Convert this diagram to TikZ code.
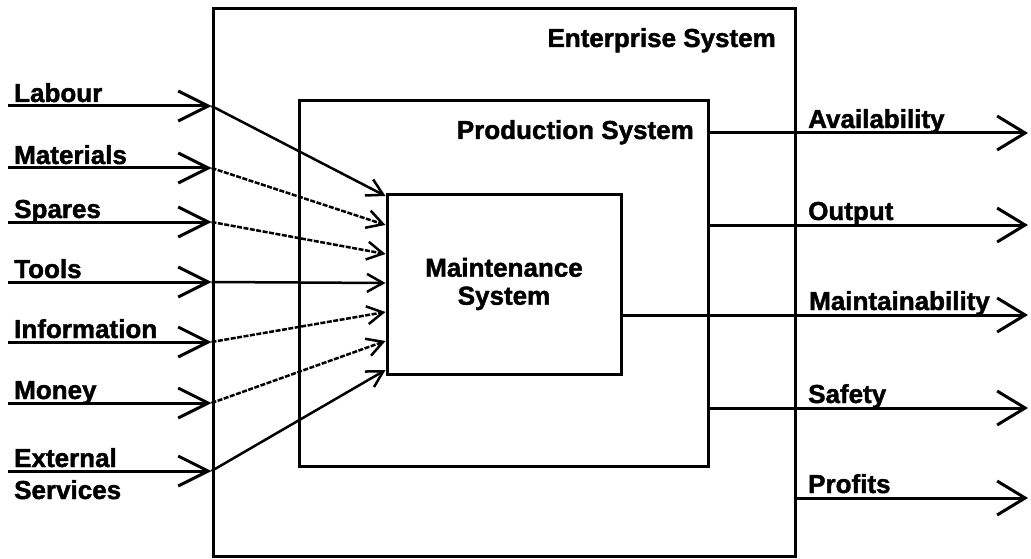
\documentclass[tikz,border=0pt]{standalone}
\usepackage{fontspec}
\setmainfont{Liberation Sans}[BoldFeatures={FakeBold=1.6}]
\usepackage{tikz}
\usetikzlibrary{positioning,arrows.meta}

\begin{document}
\begin{tikzpicture}[x=1pt,y=-1pt,
    sysbox/.style={draw, line width=3pt, inner sep=0pt},
    lbl/.style={font=\fontsize{26}{28}\selectfont\bfseries, inner sep=0pt},
    inflow/.style={line width=3pt, -{Straight Barb[length=30pt,width=30pt,line width=3pt]}},
    feed/.style={line width=2.5pt, -{Straight Barb[length=16pt,width=18pt,line width=2.5pt]}},
    feeddash/.style={feed, dash pattern=on 5pt off 1.5pt},
    outflow/.style={line width=3pt, -{Straight Barb[length=28pt,width=34pt,line width=3pt]}}]
    \useasboundingbox (0,0) rectangle (1031,559);

    % System boxes
    \node[sysbox, minimum width=582pt, minimum height=547pt] (enterprise) at (504,282.5) {};
    \node[sysbox, minimum width=409pt, minimum height=365pt] (production) at (503.5,283.5) {};
    \node[sysbox, lbl, align=center, minimum width=234pt, minimum height=180pt] (maintenance) at (504,284) {Maintenance\\System};
    \node[lbl, anchor=base east] (enterprise-title) at (776,47) {Enterprise System};
    \node[lbl, anchor=base east] (production-title) at (694,139) {Production System};

    % Labour
    \node[lbl, anchor=base west] (labour) at (14,102) {Labour};
    \coordinate (labour-src) at (8,106);
    \coordinate (labour-in) at (enterprise.west |- 0,106);
    \coordinate (labour-dst) at (maintenance.west |- 0,196);
    \draw[inflow] (labour-src) -- (labour-in);
    \draw[feed] (labour-in) -- (labour-dst);

    % Materials
    \node[lbl, anchor=base west] (materials) at (14,164) {Materials};
    \coordinate (materials-src) at (8,168);
    \coordinate (materials-in) at (enterprise.west |- 0,168);
    \coordinate (materials-dst) at (maintenance.west |- 0,225);
    \draw[inflow] (materials-src) -- (materials-in);
    \draw[feeddash] (materials-in) -- (materials-dst);

    % Spares
    \node[lbl, anchor=base west] (spares) at (14,218) {Spares};
    \coordinate (spares-src) at (8,222);
    \coordinate (spares-in) at (enterprise.west |- 0,222);
    \coordinate (spares-dst) at (maintenance.west |- 0,254);
    \draw[inflow] (spares-src) -- (spares-in);
    \draw[feeddash] (spares-in) -- (spares-dst);

    % Tools
    \node[lbl, anchor=base west] (tools) at (14,278) {Tools};
    \coordinate (tools-src) at (8,282);
    \coordinate (tools-in) at (enterprise.west |- 0,282);
    \coordinate (tools-dst) at (maintenance.west |- 0,283);
    \draw[inflow] (tools-src) -- (tools-in);
    \draw[feed] (tools-in) -- (tools-dst);

    % Information
    \node[lbl, anchor=base west] (information) at (14,338) {Information};
    \coordinate (information-src) at (8,342);
    \coordinate (information-in) at (enterprise.west |- 0,342);
    \coordinate (information-dst) at (maintenance.west |- 0,312);
    \draw[inflow] (information-src) -- (information-in);
    \draw[feeddash] (information-in) -- (information-dst);

    % Money
    \node[lbl, anchor=base west] (money) at (14,399) {Money};
    \coordinate (money-src) at (8,403);
    \coordinate (money-in) at (enterprise.west |- 0,403);
    \coordinate (money-dst) at (maintenance.west |- 0,341);
    \draw[inflow] (money-src) -- (money-in);
    \draw[feeddash] (money-in) -- (money-dst);

    % External services
    \node[lbl, anchor=base west] (external) at (14,467) {External};
    \node[lbl, anchor=base west] (services) at (14,499) {Services};
    \coordinate (external-src) at (8,471);
    \coordinate (external-in) at (enterprise.west |- 0,471);
    \coordinate (external-dst) at (maintenance.west |- 0,370);
    \draw[inflow] (external-src) -- (external-in);
    \draw[feed] (external-in) -- (external-dst);

    % Outputs
    \coordinate (availability-out) at (production.east |- 0,133);
    \coordinate (availability-end) at (1028,133);
    \draw[outflow] (availability-out) -- (availability-end);
    \node[lbl, anchor=base west] (availability) at (808,128) {Availability};

    \coordinate (output-out) at (production.east |- 0,225);
    \coordinate (output-end) at (1028,225);
    \draw[outflow] (output-out) -- (output-end);
    \node[lbl, anchor=base west] (output) at (808,220) {Output};

    \coordinate (maintainability-out) at (maintenance.east |- 0,315);
    \coordinate (maintainability-end) at (1028,315);
    \draw[outflow] (maintainability-out) -- (maintainability-end);
    \node[lbl, anchor=base west] (maintainability) at (809,310) {Maintainability};

    \coordinate (safety-out) at (production.east |- 0,408);
    \coordinate (safety-end) at (1028,408);
    \draw[outflow] (safety-out) -- (safety-end);
    \node[lbl, anchor=base west] (safety) at (808,403) {Safety};

    \coordinate (profits-out) at (enterprise.east |- 0,498);
    \coordinate (profits-end) at (1028,498);
    \draw[outflow] (profits-out) -- (profits-end);
    \node[lbl, anchor=base west] (profits) at (808,493) {Profits};
\end{tikzpicture}
\end{document}
